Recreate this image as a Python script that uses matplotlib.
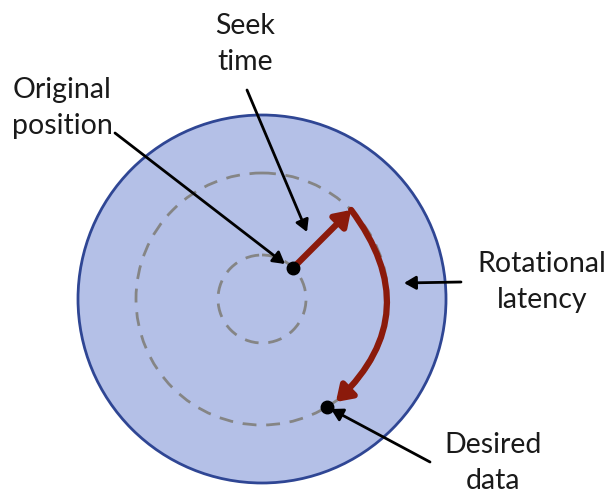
import numpy as np
import matplotlib
matplotlib.use("Agg")
import matplotlib.pyplot as plt
from matplotlib.patches import Circle, FancyArrowPatch

plt.rcParams['font.family'] = ['Lato', 'DejaVu Sans']

# geometry (pixel coordinates, y downwards)
center = (262, 299)
disk_radius = 184
track_radii = [44, 126]
start_angle_deg = 45      # original position on inner track
end_angle_deg = -59       # desired data on middle track

labels = ["Seek\ntime", "Original\nposition", "Rotational\nlatency", "Desired\ndata"]
label_pos = [(245, 44), (62, 108), (542, 282), (493, 463)]
line_from = [(247, 90), (115, 133), (461, 282), (430, 462)]

fill_color = "#b4c0e7"
edge_color = "#2f4694"
red = "#8b1a0b"

fig = plt.figure(figsize=(6.09, 4.96), dpi=100)
ax = fig.add_axes([0, 0, 1, 1])
ax.set_xlim(0, 609)
ax.set_ylim(496, 0)
ax.set_aspect('equal')
ax.axis('off')

cx, cy = center
ax.add_patch(Circle(center, disk_radius, facecolor=fill_color, edgecolor=edge_color, lw=2, zorder=1))
for r in track_radii:
    ax.add_patch(Circle(center, r, facecolor='none', edgecolor='#858585', lw=2,
                        linestyle=(0, (5, 3.5)), zorder=2))

def pt(r, ang):
    a = np.deg2rad(ang)
    return (cx + r * np.cos(a), cy - r * np.sin(a))

p_orig = pt(track_radii[0], start_angle_deg)
p_seek = pt(track_radii[1], start_angle_deg)
p_dest = pt(track_radii[1], end_angle_deg)

# seek arrow (radial)
ax.add_patch(FancyArrowPatch(p_orig, p_seek, arrowstyle='-|>,head_length=9,head_width=6',
                             color=red, lw=4.5, shrinkA=0, shrinkB=0, zorder=4))
# rotational arc
ax.add_patch(FancyArrowPatch(p_seek, (p_dest[0] + 9, p_dest[1] - 5),
                             connectionstyle="arc3,rad=-0.44",
                             arrowstyle='-|>,head_length=9,head_width=6',
                             color=red, lw=4.5, shrinkA=0, shrinkB=0, zorder=4))

# dots
ax.plot([p_orig[0], p_dest[0]], [p_orig[1], p_dest[1]], 'o', color='black', ms=9, zorder=5)

# annotation arrows
targets = [(307, 232), (285, 264), (404, 283), (p_dest[0] + 4, p_dest[1] + 2)]
for (x0, y0), (x1, y1) in zip(line_from, targets):
    ax.add_patch(FancyArrowPatch((x0, y0), (x1, y1), arrowstyle='-|>,head_length=7,head_width=4',
                                 color='black', lw=2, shrinkA=0, shrinkB=0, zorder=6))

for txt, (x, y) in zip(labels, label_pos):
    ax.text(x, y, txt, ha='center', va='center', fontsize=20.5, color='#1a1a1a',
            linespacing=1.45, fontweight='normal', zorder=7)

fig.savefig("out.png", dpi=100)
